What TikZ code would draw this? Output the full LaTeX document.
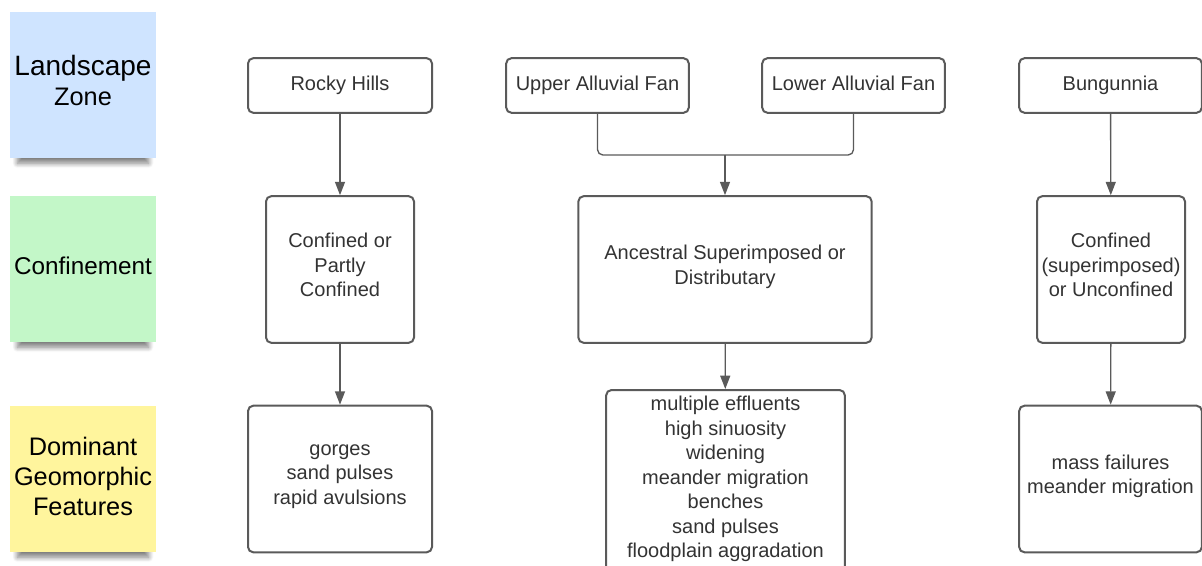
\documentclass[tikz,border=0pt]{standalone}
\usepackage{fontspec}
\setmainfont{Liberation Sans}
\usepackage{tikz}
\usetikzlibrary{arrows.meta,positioning,calc,shadows.blur}

\definecolor{zoneblue}{HTML}{CFE4FF}
\definecolor{zonegreen}{HTML}{C3F7C8}
\definecolor{zoneyellow}{HTML}{FFF59D}
\definecolor{linegray}{HTML}{5A5A5A}
\definecolor{textgray}{HTML}{333333}

\begin{document}
\begin{tikzpicture}[x=0.75pt, y=-0.75pt, ->, >={Triangle[length=10pt,width=7.5pt]}, semithick]
	\tikzstyle{sticky}=[minimum width=109.5pt, minimum height=109.5pt, inner sep=0pt, align=center,
		font=\fontsize{19}{22.5}\selectfont, text=black,
		blur shadow={shadow xshift=0pt, shadow yshift=-10.5pt, shadow scale=0.9, shadow opacity=50,
			shadow blur radius=4pt, shadow blur steps=8}]
	\tikzstyle{box}=[draw=linegray, line width=1.5pt, rounded corners=4pt, fill=white, align=center,
		inner sep=2pt, text=textgray, font=\fontsize{15}{18.4}\selectfont]
	\tikzstyle{zone}=[box, minimum width=137pt, minimum height=41pt, text height=11pt, text depth=3pt]
	\useasboundingbox (0,0) rectangle (1202,566);

	% row labels
	\node[sticky, fill=zoneblue]   (LZ) at (83,85)  {\fontsize{21}{26.5}\selectfont Landscape\\ Zone\\[-16pt]};
	\node[sticky, fill=zonegreen]  (CF) at (83,269) {\fontsize{18.2}{22}\selectfont Confinement\\[-17pt]};
	\node[sticky, fill=zoneyellow] (DG) at (83,479) {Dominant\\ Geomorphic\\ Features\\[-18pt]};

	% landscape zones
	\node[zone, minimum width=138pt] (RH)  at (340,85.5)    {Rocky Hills};
	\node[zone] (UAF) at (597.5,85.5)  {Upper Alluvial Fan};
	\node[zone] (LAF) at (853.5,85.5)  {Lower Alluvial Fan};
	\node[zone] (BG)  at (1110.5,85.5) {Bungunnia};

	% confinement
	\node[box, minimum width=111pt, minimum height=110pt] (C1) at (340,269.5)  {Confined or\\ Partly\\ Confined\\[-11.6pt]};
	\node[box, minimum width=220pt, minimum height=110pt] (C2) at (725,269.5)  {Ancestral Superimposed or\\ Distributary\\[-11.6pt]};
	\node[box, minimum width=111pt, minimum height=110pt] (C3) at (1111,269.5) {Confined\\ (superimposed)\\ or Unconfined\\[-11.6pt]};

	% features
	\node[box, minimum width=138pt, minimum height=110pt] (F1) at (340,479) {gorges\\ sand pulses\\ rapid avulsions\\[-11.6pt]};
	\node[box, minimum width=179pt, minimum height=137pt, anchor=north] (F2) at (725.5,389)
		{multiple effluents\\ high sinuosity\\ widening\\ meander migration\\ benches\\ sand pulses\\ floodplain aggradation\\[-12pt]};
	\node[box, minimum width=137pt, minimum height=110pt] (F3) at (1110.5,479) {mass failures\\ meander migration\\[-11.6pt]};

	\coordinate (J) at (725,155);

	\draw[draw=linegray, line width=1pt, rounded corners=4pt, -] (UAF) |- (J) -| (LAF);
	\draw[draw=linegray, fill=linegray, line width=1pt] (J) -- (C2);
	\path[draw=linegray, line width=1pt, every edge/.append style={draw=linegray, fill=linegray}]
	(RH) edge (C1)
	(BG) edge (C3)

	(C1) edge (F1)
	(C2) edge (F2)
	(C3) edge (F3);
\end{tikzpicture}
\end{document}
